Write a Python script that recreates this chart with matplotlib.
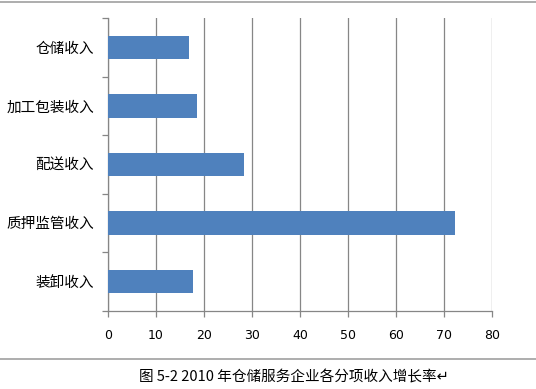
import numpy as np
import matplotlib.pyplot as plt
from matplotlib.lines import Line2D

plt.rcParams['font.family'] = ['Noto Sans CJK SC', 'DejaVu Sans']

# categories, top to bottom as in the chart
categories = ['仓储收入', '加工包装收入', '配送收入', '质押监管收入', '装卸收入']
growth = [16.9, 18.5, 28.4, 72.3, 17.8]
xticks = [0, 10, 20, 30, 40, 50, 60, 70, 80]
caption = '图 5-2 2010 年仓储服务企业各分项收入增长率↵'

bar_color = '#4F81BD'
grid_color = '#868686'

fig = plt.figure(figsize=(5.36, 3.89), dpi=100)
ax = fig.add_axes([0.2015, 0.2013, 0.7165, 0.7524])

y = np.arange(len(categories))[::-1]
ax.barh(y, growth, height=0.4, color=bar_color, zorder=3)

ax.set_xlim(0, 80)
ax.set_ylim(-0.5, len(categories) - 0.5)
ax.set_xticks(xticks)
ax.set_xticklabels([str(t) for t in xticks], fontsize=9, family='DejaVu Sans')
ax.xaxis.grid(True, color=grid_color, linewidth=0.9, zorder=0)

# category labels at centres, tick marks at boundaries
ax.set_yticks(y)
ax.set_yticklabels(categories, fontsize=10.5)
ax.tick_params(axis='y', length=0, pad=10)
ax.set_yticks(np.arange(len(categories) + 1) - 0.5, minor=True)
ax.tick_params(axis='y', which='minor', length=4, color=grid_color, width=0.9)
ax.tick_params(axis='x', length=4, color=grid_color, width=0.9, pad=9, labelcolor='black')

for s in ['top', 'right']:
    ax.spines[s].set_visible(False)
for s in ['left', 'bottom']:
    ax.spines[s].set_color(grid_color)
    ax.spines[s].set_linewidth(0.9)

# rules above the chart and above the caption
fig.add_artist(Line2D([0, 1], [1 - 2 / 389, 1 - 2 / 389], color='#A0A0A0', linewidth=1.2))
fig.add_artist(Line2D([0, 1], [1 - 359 / 389, 1 - 359 / 389], color='#A0A0A0', linewidth=1.2))

fig.text(294 / 536, 1 - 377 / 389, caption, ha='center', va='center', fontsize=10.5)

fig.savefig('out.png', dpi=100)
